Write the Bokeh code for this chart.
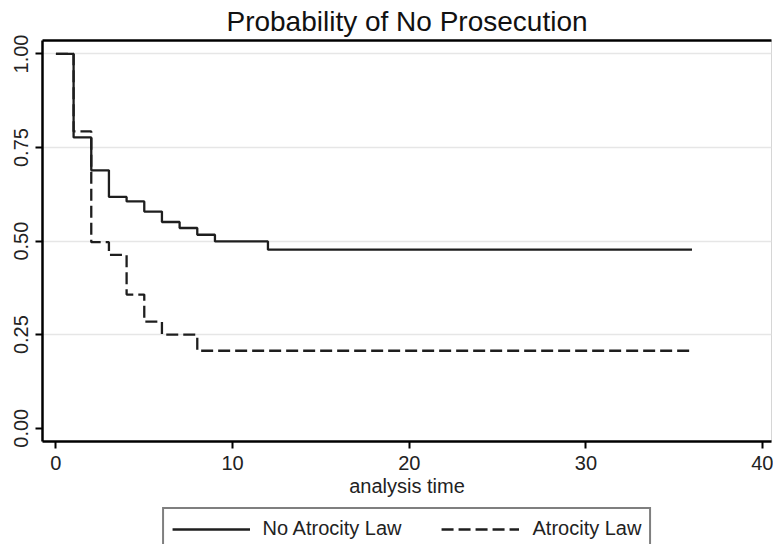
from bokeh.plotting import figure
from bokeh.models import (Range1d, FixedTicker, Legend, LegendItem, LinearAxis)
from bokeh.layouts import column
from bokeh.embed import file_html
from bokeh.resources import INLINE

# Data (Kaplan-Meier step estimates)
times_no = [0, 1, 2, 3, 4, 5, 6, 7, 8, 9, 12, 36]
surv_no = [1.0, 0.777, 0.689, 0.618, 0.606, 0.579, 0.551, 0.535, 0.517, 0.499, 0.477, 0.477]
times_at = [0, 1, 2, 3, 4, 5, 6, 8, 36]
surv_at = [1.0, 0.793, 0.497, 0.463, 0.357, 0.285, 0.25, 0.207, 0.207]
x_ticks = [0, 10, 20, 30, 40]
y_ticks = [0.0, 0.25, 0.5, 0.75, 1.0]
y_tick_labels = {0.0: "0.00", 0.25: "0.25", 0.5: "0.50", 0.75: "0.75", 1.0: "1.00"}
series_names = ["No Atrocity Law", "Atrocity Law"]
title_text = "Probability of No Prosecution"

FONT = "Liberation Sans"
INK = "#1e1e1e"
SOLID = dict(line_color=INK, line_width=2.3)
DASHED = dict(line_color=INK, line_width=2.3, line_dash="12 5")

# ---------------- main plot ----------------
p = figure(width=773, height=507, output_backend="svg", toolbar_location=None,
           x_range=Range1d(-0.76, 40.5), y_range=Range1d(-0.0355, 1.036),
           min_border_left=42, min_border_right=2, min_border_top=40, min_border_bottom=66)

p.background_fill_color = "white"
p.border_fill_color = "white"
p.outline_line_color = "#d6d6d6"
p.outline_line_width = 1

# dark top border of the plot region
top_axis = LinearAxis(ticker=FixedTicker(ticks=[]), axis_line_color="black", axis_line_width=2.5,
                      major_tick_out=0, major_tick_in=0, minor_tick_out=0, minor_tick_in=0,
                      major_label_standoff=0)
p.add_layout(top_axis, "above")

p.title.text = title_text
p.title.align = "center"
p.title.text_font = FONT
p.title.text_font_size = "28px"
p.title.text_font_style = "normal"
p.title.text_color = "#111111"
p.title.standoff = 7

p.step(times_no, surv_no, mode="after", **SOLID)
p.step(times_at, surv_at, mode="after", **DASHED)

# axes
xax = p.below[0]
yax = p.left[0]
xax.ticker = FixedTicker(ticks=x_ticks)
yax.ticker = FixedTicker(ticks=y_ticks)
yax.major_label_overrides = y_tick_labels
yax.major_label_orientation = "vertical"
for ax in (xax, yax):
    ax.axis_line_color = "black"
    ax.axis_line_width = 2.5
    ax.major_tick_line_color = "black"
    ax.major_tick_line_width = 2
    ax.major_tick_out = 7
    ax.major_tick_in = 0
    ax.minor_tick_line_color = None
    ax.major_label_text_font = FONT
    ax.major_label_text_font_size = "20px"
    ax.major_label_text_color = "#222222"
xax.axis_label = "analysis time"
xax.axis_label_text_font = FONT
xax.axis_label_text_font_size = "20px"
xax.axis_label_text_font_style = "normal"
xax.axis_label_text_color = "#222222"
xax.axis_label_standoff = 2
xax.major_label_standoff = 7
yax.major_label_standoff = 7

p.xgrid.grid_line_color = None
p.ygrid.ticker = FixedTicker(ticks=[0.25, 0.5, 0.75, 1.0])
p.ygrid.grid_line_color = "#e6e6e6"
p.ygrid.grid_line_width = 1.5

# ---------------- legend strip ----------------
# same side borders as the main plot so the column keeps the frames aligned;
# the series are drawn here out of view only to give the legend its line samples
leg = figure(width=773, height=50, output_backend="svg", toolbar_location=None,
             x_range=Range1d(-3, -2), y_range=Range1d(0, 1),
             x_axis_type=None, y_axis_type=None,
             min_border_left=42, min_border_right=2, min_border_top=0, min_border_bottom=0)
leg.outline_line_color = None
leg.xgrid.grid_line_color = None
leg.ygrid.grid_line_color = None
leg.border_fill_color = "white"
l1 = leg.step(times_no, surv_no, mode="after", **SOLID)
l2 = leg.step(times_at, surv_at, mode="after", **DASHED)

legend = Legend(items=[LegendItem(label=series_names[0], renderers=[l1]),
                       LegendItem(label=series_names[1], renderers=[l2])],
                orientation="horizontal", location="top_center",
                label_text_font=FONT, label_text_font_size="20px", label_text_color="#222222",
                glyph_width=78, glyph_height=20, label_height=20, spacing=40, padding=8,
                label_standoff=13, margin=0,
                border_line_color="black", border_line_width=2.5,
                background_fill_color="white")
leg.add_layout(legend, "center")

layout = column(p, leg, spacing=0)
open("out.html", "w").write(file_html(layout, INLINE))
